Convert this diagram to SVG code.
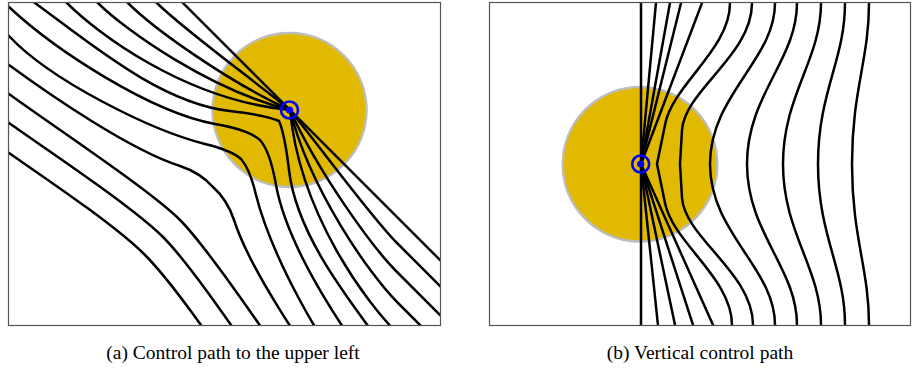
<svg xmlns="http://www.w3.org/2000/svg" width="912" height="372" viewBox="0 0 912 372">
<style>
.frame{fill:none;stroke:#555;stroke-width:1.2}
.disk{fill:#E1B900;stroke:#BDBDBD;stroke-width:2.5}
.ln{fill:none;stroke:#000;stroke-width:2.5;stroke-linejoin:round}
.ring{fill:none;stroke:#0000FF;stroke-width:2.6}
.dot{fill:#0000FF}
.cap{font-family:"Liberation Serif","Times New Roman",serif;font-size:19.5px;fill:#000;text-anchor:middle}
</style>
<defs>
<clipPath id="ca"><rect x="9" y="3" width="431.5" height="322.5"/></clipPath>
<clipPath id="cb"><rect x="490" y="3" width="420.5" height="322.5"/></clipPath>
</defs>
<rect width="912" height="372" fill="#fff"/>

<g id="panel-a">
<circle id="disk-a" class="disk" cx="289.5" cy="110" r="77"/>
<g id="lines-a" clip-path="url(#ca)">
<path class="ln" d="M180,0 L445,265"/>
<path class="ln" d="M154,0 L157,3 C181,27 240,70 290,110 C330,160 373,219 397,243 L450,296"/>
<path class="ln" d="M125,0 L128,3 C153,28 228,82 290,110 C318,172 372,247 397,272 L450,325"/>
<path class="ln" d="M95,0 L98,3 C125,30 210,90 290,110 C310,190 370,275 397,302 L425,330"/>
<path class="ln" d="M63,0 L67,3 C97,33 185,100 290,110 C300,215 367,303 397,333"/>
<path class="ln" d="M31,0 L35,3 C90,43 160,103 230,111 C255,114 270,117 279,121 C283,130 286,145 289,170 C297,240 357,310 397,365"/>
<path class="ln" d="M4,2 L9,7 C55,50 150,112 215,124 C238,128 252,133 260,140 C267,148 272,162 276,185 C288,250 350,345 393,391"/>
<path class="ln" d="M4,31 L9,36 C50,80 150,130 205,144 C222,148 233,152 241,159 C248,167 252,178 256,195 C270,250 320,350 364,391"/>
<path class="ln" d="M4,61 L9,65 C50,95 130,150 180,166 C195,171 205,178 213,187 C222,195 229,205 234,220 C250,270 305,350 335,391"/>
<path class="ln" d="M4,90.3 L9,94 C50,124 150,190 180,220 C210,250 276,350 306,391"/>
<path class="ln" d="M4,119.5 L9,123 C50,152 133,207 163,237 C193,267 248,350 277,391"/>
<path class="ln" d="M4,149.5 L9,153 C45,178 115,225 145,255 C175,285 222,355 247,391"/>
</g>
<circle class="ring" cx="289.5" cy="110" r="8.5"/>
<circle class="dot" cx="289.5" cy="110" r="3.6"/>
<rect class="frame" x="8.5" y="2.5" width="432" height="323"/>
<text class="cap" x="233" y="359">(a) Control path to the upper left</text>
</g>

<g id="panel-b">
<circle id="disk-b" class="disk" cx="640" cy="164.3" r="77.3"/>
<g id="lines-b" clip-path="url(#cb)">
<path class="ln" d="M641,-5 L641,333"/>
<path class="ln" d="M656.7,-5 L641,164 L658.8,333"/>
<path class="ln" d="M671.4,-5 L641,164 L676.7,333"/>
<path class="ln" d="M683,-5 L641,164 L695.6,333"/>
<path class="ln" d="M705,-5 L641,164 L716.6,333"/>
<path class="ln" d="M730,-5 L730,3 C730,50 672,85 665,125 L657,164 L665,203 C673,243 732,278 732,325 L732,333"/>
<path class="ln" d="M752,-5 L752,3 C752,55 685,90 682,130 L680,164 L682,198 C685,238 753,273 753,325 L753,333"/>
<path class="ln" d="M775,-5 L775,3 C775,60 710,95 710,164 C710,233 775,268 775,325 L775,333"/>
<path class="ln" d="M797,-5 L797,3 C797,60 747,95 747,164 C747,233 797,268 797,325 L797,333"/>
<path class="ln" d="M821,-5 L821,3 C821,60 783,95 783,164 C783,233 821,268 821,325 L821,333"/>
<path class="ln" d="M845,-5 L845,3 C845,60 818,92 818,164 C818,236 845,268 845,325 L845,333"/>
<path class="ln" d="M869,-5 L869,3 C869,60 852,90 852,164 C852,238 869,268 869,325 L869,333"/>
</g>
<circle class="ring" cx="640.7" cy="164" r="8.5"/>
<circle class="dot" cx="640.7" cy="164" r="3.6"/>
<rect class="frame" x="489.5" y="2.5" width="421" height="323"/>
<text class="cap" x="700" y="359">(b) Vertical control path</text>
</g>
</svg>
